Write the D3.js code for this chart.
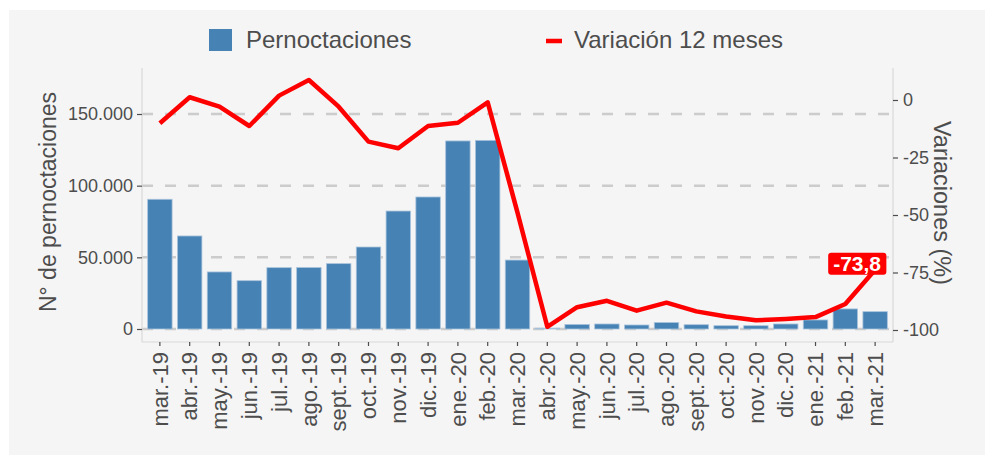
<!DOCTYPE html>
<html>
<head>
<meta charset="utf-8">
<script src="https://cdn.jsdelivr.net/npm/d3@7"></script>
<style>
    body { margin: 0; background: #ffffff; }
    text { font-family: "Liberation Sans", Arial, sans-serif; }
</style>
</head>
<body>
<div id="chart"></div>
<script>

//data
const months = ["mar.-19", "abr.-19", "may.-19", "jun.-19", "jul.-19", "ago.-19", "sept.-19", "oct.-19",
    "nov.-19", "dic.-19", "ene.-20", "feb.-20", "mar.-20", "abr.-20", "may.-20", "jun.-20", "jul.-20",
    "ago.-20", "sept.-20", "oct.-20", "nov.-20", "dic.-20", "ene.-21", "feb.-21", "mar.-21"];

const pernoctaciones = [90500, 64900, 39800, 33700, 42800, 42900, 45600, 57200, 82300, 92100, 131200,
    131600, 48100, 600, 3200, 3500, 2800, 4500, 3000, 2300, 2300, 3500, 6300, 14000, 12100];

const variacion = [-10.1, 1.2, -2.9, -11.3, 1.9, 8.7, -2.9, -18.1, -21.0, -11.3, -9.9, -1.0, -49.0,
    -98.6, -90.1, -87.3, -91.6, -88.1, -91.9, -94.1, -95.8, -95.2, -94.4, -88.7, -73.8];

const leftTicks = [0, 50000, 100000, 150000];
const rightTicks = [0, -25, -50, -75, -100];

const legendLabels = ["Pernoctaciones", "Variación 12 meses"];
const leftTitle = "N° de pernoctaciones";
const rightTitle = "Variaciones (%)";

const width = 985;
const height = 455;
const panel = { left: 142, right: 893, top: 68, bottom: 342 };

const barColor = "#4682b4";
const lineColor = "#ff0000";
const textColor = "#4d4d4d";

//spanish number format
const es = d3.formatLocale({ decimal: ",", thousands: ".", grouping: [3], currency: ["", "€"], minus: "-" });

const svg = d3.select("#chart")
    .append("svg")
    .attr("width", width)
    .attr("height", height);

//gray background
svg.append("rect")
    .attr("x", 9)
    .attr("y", 10)
    .attr("width", width - 9)
    .attr("height", height - 10)
    .attr("fill", "#f5f5f5");

//scales
const xScale = d3.scaleBand()
    .domain(months)
    .range([panel.left, panel.right])
    .paddingInner(0.18)
    .paddingOuter(0.19);

const yLeft = d3.scaleLinear()
    .domain([0, 150000])
    .range([329, 114]);

const yRight = d3.scaleLinear()
    .domain([-100, 0])
    .range([330, 100]);

//dashed grid lines
svg.append("g")
    .selectAll("line")
    .data(leftTicks)
    .enter()
    .append("line")
    .attr("x1", panel.left)
    .attr("x2", panel.right)
    .attr("y1", function(d) {return yLeft(d)})
    .attr("y2", function(d) {return yLeft(d)})
    .attr("stroke", "#cccccc")
    .attr("stroke-width", 2.5)
    .attr("stroke-dasharray", "11,12");

//bars
svg.append("g")
    .selectAll("rect")
    .data(months)
    .enter()
    .append("rect")
    .attr("x", function(d) {return xScale(d)})
    .attr("y", function(d, i) {return yLeft(pernoctaciones[i])})
    .attr("width", xScale.bandwidth())
    .attr("height", function(d, i) {return yLeft(0) - yLeft(pernoctaciones[i])})
    .attr("fill", barColor)
    .attr("stroke", "#a9c3dc")
    .attr("stroke-width", 0.8);

//line of 12 month change
const line = d3.line()
    .x(function(d, i) {return xScale(months[i]) + xScale.bandwidth() / 2})
    .y(function(d) {return yRight(d)});

svg.append("path")
    .datum(variacion)
    .attr("d", line)
    .attr("fill", "none")
    .attr("stroke", lineColor)
    .attr("stroke-width", 4.5)
    .attr("stroke-linejoin", "round");

//axis lines (light gray)
const axisLines = [
    [panel.left, panel.top, panel.left, panel.bottom],
    [panel.left, panel.bottom, panel.right, panel.bottom],
    [panel.right, panel.top, panel.right, panel.bottom]
];
svg.append("g")
    .selectAll("line")
    .data(axisLines)
    .enter()
    .append("line")
    .attr("x1", function(d) {return d[0]})
    .attr("y1", function(d) {return d[1]})
    .attr("x2", function(d) {return d[2]})
    .attr("y2", function(d) {return d[3]})
    .attr("stroke", "#d9d9d9")
    .attr("stroke-width", 1.2);

//left axis
const leftAxis = svg.append("g")
    .attr("transform", "translate(" + panel.left + ",0)")
    .call(d3.axisLeft(yLeft).tickValues(leftTicks).tickFormat(es.format(",d")).tickSize(5).tickPadding(4));

//right axis
const rightAxis = svg.append("g")
    .attr("transform", "translate(" + panel.right + ",0)")
    .call(d3.axisRight(yRight).tickValues(rightTicks).tickFormat(es.format("d")).tickSize(5).tickPadding(5));

//bottom axis
const bottomAxis = svg.append("g")
    .attr("transform", "translate(0," + panel.bottom + ")")
    .call(d3.axisBottom(xScale).tickSize(4));

bottomAxis.selectAll("text")
    .attr("transform", "rotate(-90)")
    .attr("text-anchor", "end")
    .attr("x", -10)
    .attr("y", 0)
    .attr("dy", "0.35em")
    .style("font-size", "22px");

[leftAxis, rightAxis].forEach(function(a) {
    a.selectAll("text").style("font-size", "18px");
});

[leftAxis, rightAxis, bottomAxis].forEach(function(a) {
    a.select(".domain").remove();
    a.selectAll("line").attr("stroke", textColor).attr("stroke-width", 1.2);
    a.selectAll("text").attr("fill", textColor).style("font-family", "'Liberation Sans', Arial, sans-serif");
});

//axis titles
svg.append("text")
    .attr("transform", "translate(56,202) rotate(-90)")
    .attr("text-anchor", "middle")
    .attr("fill", textColor)
    .style("font-size", "23px")
    .text(leftTitle);

svg.append("text")
    .attr("transform", "translate(934,203) rotate(90)")
    .attr("text-anchor", "middle")
    .attr("fill", textColor)
    .style("font-size", "23.5px")
    .text(rightTitle);

//legend
const legend = svg.append("g");

legend.append("rect")
    .attr("x", 209)
    .attr("y", 29)
    .attr("width", 23)
    .attr("height", 22)
    .attr("fill", barColor);

legend.append("text")
    .attr("x", 246)
    .attr("y", 47.5)
    .attr("fill", textColor)
    .style("font-size", "24px")
    .text(legendLabels[0]);

legend.append("line")
    .attr("x1", 546)
    .attr("x2", 562)
    .attr("y1", 41)
    .attr("y2", 41)
    .attr("stroke", lineColor)
    .attr("stroke-width", 4.5);

legend.append("text")
    .attr("x", 574)
    .attr("y", 47.5)
    .attr("fill", textColor)
    .style("font-size", "24px")
    .text(legendLabels[1]);

//label for last value
const last = variacion.length - 1;
const lx = xScale(months[last]) + xScale.bandwidth() / 2 - 18;
const ly = yRight(variacion[last]) - 6;

const lab = svg.append("g")
    .attr("transform", "translate(" + lx + "," + ly + ")");

const labText = lab.append("text")
    .attr("text-anchor", "middle")
    .attr("dy", "0.36em")
    .attr("fill", "#ffffff")
    .style("font-size", "21px")
    .style("font-weight", "bold")
    .text(es.format(".1f")(variacion[last]));

const bb = labText.node().getBBox();
lab.insert("rect", "text")
    .attr("x", bb.x - 5)
    .attr("y", -11)
    .attr("width", bb.width + 10)
    .attr("height", 22)
    .attr("rx", 3)
    .attr("fill", lineColor);

</script>
</body>
</html>
